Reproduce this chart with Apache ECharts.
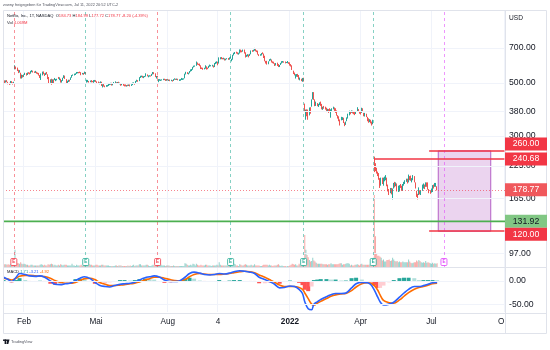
<!DOCTYPE html>
<html><head><meta charset="utf-8">
<script src="https://cdn.jsdelivr.net/npm/echarts@6/dist/echarts.min.js"></script>
<style>html,body{margin:0;padding:0;background:#fff}#c{width:550px;height:350px}</style>
</head><body><div id="c"></div><script>
// ---------- DATA ----------
const holidays = ['2021-01-18','2021-02-15','2021-04-02','2021-05-31','2021-07-05','2021-09-06','2021-11-25','2021-12-24','2022-01-17','2022-02-21','2022-04-15','2022-05-30','2022-06-20','2022-07-04','2022-09-05'];
const firstDay = '2021-01-05', lastAxisDay = '2022-10-03';
// [open, close, low, high]
const candles2021 = [
[518,521,515,523],[515,500,498,513],[505,509,502,513],[511,510,504,514],[503,499,494,506],[500,494,491,501],[495,508,494,510],[507,501,499,509],[500,498,493,503],[501,502,497,506],[580,586,570,593],[582,580,571,586],[576,565,561,580],[567,557,550,568],[559,562,553,566],[548,523,522,552],[525,539,522,542],[536,532,527,540],
[535,539,530,543],[543,548,540,552],[547,539,537,550],[541,552,540,553],[552,551,546,555],[551,548,543,553],[549,559,547,562],[561,564,555,566],[562,558,553,563],[557,557,551,559],[556,557,551,562],[555,551,547,557],[548,548,544,553],[549,540,537,551],[534,534,525,540],[520,546,515,548],[542,553,538,558],[549,547,544,559],[542,539,535,549],
[545,551,540,552],[550,548,543,556],[541,521,519,544],[521,511,500,530],[513,516,501,518],[513,493,492,521],[503,506,500,518],[517,505,500,518],[515,523,514,525],[516,518,509,520],[519,520,513,521],[525,524,520,530],[517,524,514,528],[518,505,502,521],[504,512,502,514],[513,523,510,526],[526,535,524,539],[536,521,520,537],[518,503,499,519],[506,508,500,511],[509,514,505,516],[513,513,507,516],[515,522,515,528],
[528,539,526,540],[540,541,536,543],[541,545,538,547],[542,547,540,549],[549,555,546,556],[553,555,549,556],[553,553,549,556],[555,554,550,558],[554,540,539,555],[545,549,543,551],[550,547,541,551],[547,554,546,558],[552,550,544,556],[508,509,502,516],[509,509,504,515],[507,506,502,510],[508,510,504,512],[512,506,503,514],[508,507,504,510],[508,509,501,514],[508,513,506,515],
[512,510,505,514],[507,505,499,508],[505,499,497,507],[500,501,494,503],[503,504,497,508],[502,487,486,506],[480,491,479,494],[489,484,483,496],[485,482,480,488],[483,488,482,490],[486,488,483,491],[489,494,486,497],[493,495,490,498],[495,498,492,501],[499,489,488,501],[490,497,489,500],[498,503,496,505],[502,503,500,508],[502,500,497,504],[501,503,499,505],
[505,499,497,506],[499,499,494,502],[496,489,487,497],[491,494,489,496],[494,492,487,496],[490,488,484,493],[490,485,484,493],[486,488,483,490],[489,488,485,492],[488,491,486,493],[492,487,484,493],[488,492,486,494],[492,500,490,502],[498,500,495,503],[498,497,492,500],[498,508,497,510],[510,512,506,516],[513,508,506,514],[511,527,509,529],[528,534,525,536],[533,535,529,537],[533,528,526,536],
[528,533,524,534],[533,533,529,535],[535,542,532,549],[542,536,533,543],[530,535,528,538],[535,537,532,539],[536,536,532,538],[536,541,535,546],[544,552,543,556],[552,547,544,555],[548,530,529,549],[525,533,522,535],[535,531,527,536],[510,514,504,519],[514,515,511,519],[515,515,510,517],[515,516,512,518],[516,519,514,521],[518,518,514,521],[518,514,510,519],[512,518,511,519],
[517,515,512,520],[516,516,510,517],[516,511,509,517],[512,514,509,516],[513,510,507,514],[511,517,510,519],[518,520,516,523],[520,518,515,521],[518,520,515,522],[520,515,513,521],[515,516,510,518],[514,517,511,519],[517,521,515,525],[518,520,515,523],[521,521,517,523],[524,545,523,547],[544,553,543,557],[552,547,545,555],[545,550,543,552],[551,558,549,561],[560,566,558,570],[566,569,561,572],
[570,582,568,584],[584,588,581,591],[588,590,585,592],[591,606,590,615],[603,598,596,609],[599,598,594,602],[600,590,588,603],[591,577,572,593],[578,577,572,581],[577,573,568,579],[574,575,570,579],[576,590,574,593],[582,575,569,587],[578,576,571,580],[578,586,577,590],[587,592,585,597],[590,592,587,594],[590,592,586,596],[588,583,580,592],[585,599,583,606],[603,610,600,613],
[608,613,604,616],[610,603,593,614],[606,634,603,640],[632,639,628,641],[640,631,629,642],[634,632,628,637],[632,634,628,638],[633,624,621,634],[626,629,622,632],[633,633,628,635],[633,628,625,636],[627,637,626,640],[638,639,632,646],[623,625,616,631],[628,653,626,656],[655,664,652,669],[664,671,661,674],[672,668,664,676],[670,662,659,672],[663,663,657,669],[666,690,664,691],
[683,681,671,690],[681,678,672,684],[679,688,676,690],[688,668,664,690],[670,646,639,672],[650,651,643,656],[650,656,646,660],[653,647,640,658],[650,658,649,662],[660,683,659,684],[682,679,675,686],[679,687,677,689],[688,692,682,701],[690,682,678,693],[682,679,673,685],[682,659,657,683],[658,654,648,660],[655,658,650,660],[655,666,652,667],[668,664,660,672],[662,642,636,664],
[645,618,616,650],[618,616,603,619],[617,602,597,619],[605,613,599,616],[618,626,617,629],[626,628,621,632],[626,611,609,627],[615,612,605,616],[612,605,602,614],[601,598,589,605],[598,605,592,606],[605,591,589,608],[593,587,583,600],[585,594,583,595],[596,605,595,607],[605,614,603,617],[613,614,608,618],[615,613,608,616],[612,611,604,615],[610,611,606,612],[611,612,605,618],[610,602,601,611]
];
const candles2022 = [
[605,597,591,610],[599,591,586,600],[593,568,567,593],[554,553,545,563],[549,541,538,553],[539,540,522,544],[536,541,531,545],[544,537,530,546],[538,519,517,540],[517,526,513,527],[518,511,509,521],[511,516,506,525],[518,508,507,526],[400,398,380,410],[383,387,351,387],[380,366,363,388],[382,360,351,387],[367,387,366,395],[386,384,372,396],[401,427,398,427],
[432,457,427,458],[455,429,425,458],[421,406,400,427],[407,410,401,418],[410,402,400,412],[401,404,397,409],[409,413,404,415],[407,406,401,418],[406,391,388,409],[390,397,386,398],[400,396,390,401],[396,395,387,398],[391,381,378,394],[383,387,380,390],[384,383,375,389],[389,381,378,392],[366,386,358,388],[384,391,382,392],[389,395,388,398],
[391,386,382,395],[388,380,375,392],[382,368,365,384],[364,362,355,367],[362,350,346,363],[347,342,332,352],[352,359,349,361],[353,357,350,360],[356,340,340,358],[339,331,330,342],[336,344,334,345],[349,358,346,359],[356,371,355,372],[370,381,366,383],[379,375,370,381],[377,383,375,384],[380,374,373,383],[378,376,370,380],[376,374,367,378],[376,379,371,381],[385,392,380,396],[386,381,378,389],[380,375,372,382],
[376,373,369,380],[378,392,375,394],[388,380,379,392],[374,368,363,375],[367,372,362,375],[370,362,360,372],[358,349,346,361],[351,344,341,356],[345,350,343,353],[350,341,339,351],[339,338,332,345],[340,349,336,351],[245,226,212,246],[226,218,214,231],[219,216,209,221],[212,210,204,213],[208,198,197,210],[197,189,182,200],[192,199,186,201],[199,190,189,201],
[190,199,186,201],[199,201,194,203],[201,205,196,206],[200,188,185,201],[186,181,176,188],[177,173,170,180],[177,180,173,182],[177,174,171,182],[170,180,163,181],[183,188,181,191],[188,186,183,193],[189,191,185,192],[188,177,176,190],[176,183,175,186],[185,186,176,187],[188,187,182,189],[185,180,177,186],[178,188,177,189],[187,191,186,193],[192,195,189,196],[195,197,193,199],
[197,193,190,199],[193,205,192,207],[202,199,196,204],[202,197,195,205],[194,199,192,200],[198,202,196,206],[201,193,192,204],[189,183,181,192],[175,170,167,177],[170,168,163,172],[172,180,170,183],[174,173,171,178],[173,176,170,178],[178,185,177,188],[182,185,181,190],[186,184,180,188],[186,191,184,192],[189,189,184,192],[187,180,179,192],[179,178,173,180],[175,175,172,178],
[176,180,174,181],[177,186,175,187],[186,184,181,188],[185,189,184,191],[186,187,184,191],[184.73,178.77,177.72,184.99]
];
// volume, millions
const volume2021 = [4,5,5,4,5,4,5,4,6,11,32,14,7,7,6,9,6,5, 6,5,4,4,3,3,4,4,3,3,3,3,3,3,4,5,4,3,4, 3,3,5,4,5,6,5,3,4,3,3,4,3,5,4,3,4,4,4,3,3,3,3, 6,3,3,2,4,3,3,3,4,3,3,5,11,17,7,5,4,4,3,3,3, 4,4,3,3,3,4,4,3,3,3,3,3,2,2,2,2,2,3,3,2, 3,3,3,2,2,2,2,2,3,2,3,2,3,4,2,3,3,3,5,5,3,3, 3,3,4,4,3,2,2,3,4,3,4,4,7,13,5,4,3,3,3,2,3, 3,3,2,2,2,3,2,2,2,2,2,2,2,2,2,7,6,4,3,3,4,3, 6,5,3,6,4,3,3,4,3,3,3,4,4,3,3,3,2,3,3,3,3, 4,3,9,4,3,3,3,3,3,3,3,4,8,12,7,6,5,3,3,2,5, 4,3,3,4,5,4,3,3,3,4,3,3,5,3,3,3,3,2,2,3,4, 4,4,4,3,4,3,3,2,3,3,3,4,5,3,2,3,2,2,2,1,2,2];
const volume2022 = [3,4,6,5,4,5,3,3,6,4,4,4,10,59,32,22,18,13,10,11, 17,12,10,8,6,6,6,6,6,5,5,5,5,4,5,5,7,5,5, 5,5,5,5,6,7,7,4,5,5,6,7,7,6,3,4,3,3,4,4,5,4,3, 5,6,4,4,4,4,4,4,4,4,6,17,133,57,26,21,21,19,17,12, 14,10,10,13,13,14,11,12,17,14,11,10,11,9,10,9,9,10,9,9,9, 9,14,10,8,7,8,9,9,12,10,13,11,9,8,9,8,11,8,9,8,7, 6,8,6,7,6,7];
// MACD pane: [bar index, value]
const macdLine = [[0,8],[4,3],[7,-1],[11,8],[14,16],[19,14],[23,11],[28,10],[32,11],[36,8],[41,0],[45,-7],[50,-8],[54,-6],[58,-5],[63,1],[67,6],[71,9],[76,5],[80,-3],[84,-9],[89,-12],[93,-13],[97,-10],[102,-7],[106,-6],[111,-5],[115,-3],[119,2],[124,7],[128,9],[132,11],[137,8],[141,2],[146,-1],[150,-1],[154,0],[159,8],[163,16],[167,19],[172,17],[176,14],[181,13],[185,14],[189,16],[194,15],[198,17],[202,20],[207,22],[211,21],[216,19],[220,16],[224,8],[229,3],[233,-1],[237,-6],[242,-15],[246,-14],[251,-11],[255,-12],[259,-18],[262,-27],[264,-45],[267,-60],[270,-62],[272,-50],[275,-45],[278,-40],[283,-34],[287,-30],[291,-27],[296,-27],[300,-26],[305,-15],[309,-6],[314,-3],[319,-4],[322,-8],[325,-20],[328,-35],[330,-45],[333,-52],[338,-50],[342,-46],[347,-35],[351,-26],[355,-18],[360,-12],[364,-12],[368,-10],[372,-7],[376,-4],[380,-3.21]];
const signalLine = [[0,6],[4,4],[7,2],[11,6],[14,10],[19,12],[23,12],[28,11],[32,10.5],[36,9.5],[41,6],[45,1],[50,-3],[54,-5],[58,-5],[63,-3],[67,1],[71,5],[76,6],[80,3],[84,-3],[89,-7],[93,-10],[97,-10],[102,-9],[106,-8],[111,-6],[115,-5],[119,-2],[124,2],[128,5],[132,8],[137,8],[141,6],[146,3],[150,1],[154,0],[159,3],[163,9],[167,14],[172,16],[176,15],[181,14],[185,14],[189,14],[194,15],[198,16],[202,18],[207,20],[211,21],[216,20],[220,18],[224,13],[229,8],[233,3],[237,-2],[242,-9],[246,-12],[251,-12],[255,-12],[259,-14],[262,-18],[264,-26],[267,-38],[270,-50],[272,-52],[275,-48],[278,-44],[283,-38],[287,-33],[291,-30],[296,-28],[300,-27],[305,-21],[309,-13],[314,-6],[319,-4],[322,-5],[325,-10],[328,-20],[330,-30],[333,-42],[338,-47],[342,-48],[347,-41],[351,-33],[355,-25],[360,-18],[364,-14],[368,-12],[372,-9],[376,-6],[380,-4.92]];
const macdHist = [[0,2],[4,-1],[7,-3],[11,2],[14,6],[19,2],[23,-1],[28,-1],[32,0.5],[36,-1.5],[41,-6],[45,-8],[50,-5],[54,-1],[58,0],[63,4],[67,5],[71,4],[76,-1],[80,-6],[84,-6],[89,-5],[93,-3],[97,0],[102,2],[106,2],[111,1],[115,2],[119,4],[124,5],[128,4],[132,3],[137,0],[141,-4],[146,-4],[150,-2],[154,0],[159,5],[163,7],[167,5],[172,1],[176,-1],[181,-1],[185,0],[189,2],[194,0],[198,1],[202,2],[207,2],[211,0],[216,-1],[220,-2],[224,-5],[229,-5],[233,-4],[237,-4],[242,-6],[246,-2],[251,1],[255,0],[259,-4],[262,-9],[264,-19],[267,-22],[270,-12],[272,2],[275,3],[278,4],[283,4],[287,3],[291,3],[296,1],[300,1],[305,6],[309,7],[314,3],[319,0],[322,-3],[325,-10],[328,-15],[330,-15],[333,-10],[338,-3],[342,2],[347,6],[351,7],[355,7],[360,6],[364,2],[368,2],[372,2],[376,2],[380,1.71]];
// ticks and labels
const priceTicks = [700,500,380,300,225,165,97];
const macdTicks = [0,-50];
const timeLabelDates = ['2021-02-01','2021-05-03','2021-08-02','2021-10-04','2022-01-03','2022-04-01','2022-07-01','2022-10-03'];
const timeLabelTexts = ['Feb','Mai','Aug','4','2022','Apr','Jul','Okt'];
// earnings events
const earningsDates = ['2021-01-19','2021-04-20','2021-07-20','2021-10-19','2022-01-20','2022-04-19','2022-07-19'];
const earningsKinds = ['miss','beat','miss','beat','beat','beat','future'];
// drawings
const lastPrice = 178.77;
const supportLevel = 131.92;
const gapLevel = 240.68, gapStart = '2022-04-20';
const zoneTop = 260, zoneBottom = 120, zoneLineStart = '2022-06-29', zoneRectStart = '2022-07-12', zoneRectEnd = '2022-09-15';

// ---------- BUILD ----------
function buildDays(start, end){
  const out=[]; const d=new Date(start+'T12:00:00Z'); const e=new Date(end+'T12:00:00Z');
  while(d<=e){ const wd=d.getUTCDay(); const s=d.toISOString().slice(0,10);
    if(wd!==0&&wd!==6&&holidays.indexOf(s)<0) out.push(s);
    d.setUTCDate(d.getUTCDate()+1);} return out;
}
const categories = buildDays(firstDay, lastAxisDay);
const candles = candles2021.concat(candles2022);
const volumes = volume2021.concat(volume2022);
const UP='#26a69a', DOWN='#ef5350';
const volData = volumes.map((v,i)=>({value:[i,v], itemStyle:{color: (candles[i] && candles[i][1]>=candles[i][0]) ? 'rgba(38,166,154,0.5)' : 'rgba(239,83,80,0.5)'}}));
const histData = macdHist.map((p,i)=>{
  const prev = i>0 ? macdHist[i-1][1] : p[1];
  let c;
  if (p[1]>=0) c = p[1]>=prev ? '#26a69a' : '#b2dfdb';
  else c = p[1]<prev ? '#ff5252' : '#ffcdd2';
  return {value:p, itemStyle:{color:c}};
});
const labelMap = {}; timeLabelDates.forEach((d,i)=>labelMap[d]=timeLabelTexts[i]);
const kindColor = {miss:'#f23645', beat:'#22ab94', future:'#e040fb'};

const FONT = '"Liberation Sans", Arial, sans-serif';
const TXT = '#131722';
const GRIDC = '#f0f3fa';
const splitInterval = (i,v)=> labelMap[v]!==undefined;

const chart = echarts.init(document.getElementById('c'), null, {renderer:'canvas'});
const earnLines = earningsDates.map((d,i)=>({xAxis:d, lineStyle:{color:kindColor[earningsKinds[i]], type:[3,3], width:1, opacity:0.55}}));
const priceGridLines = priceTicks.map(v=>({yAxis:v, lineStyle:{color:GRIDC, width:1, type:'solid'}}));

chart.setOption({
  animation:false,
  backgroundColor:'#fff',
  textStyle:{fontFamily:FONT},
  grid:[
    {left:3, right:45, top:10, height:257},
    {left:3, right:45, top:167, height:100},
    {left:3, right:45, top:268, height:44}
  ],
  xAxis:[0,1,2].map(gi=>({
    type:'category', gridIndex:gi, data:categories, boundaryGap:true,
    axisLine:{show:false}, axisTick:{show:false},
    axisLabel: gi===2 ? {
      show:true, interval:splitInterval, margin:6, color:TXT, fontSize:8.2, fontFamily:FONT,
      formatter:(v)=> v==='2022-01-03' ? '{b|2022}' : (labelMap[v]||''),
      rich:{b:{fontWeight:'bold', fontSize:8.2, color:TXT, fontFamily:FONT}}
    } : {show:false},
    splitLine:{show: gi!==1, interval:splitInterval, lineStyle:{color:GRIDC, width:1}}
  })),
  yAxis:[
    {type:'log', gridIndex:0, position:'right', min:85, max:1010, logBase:10,
     axisLine:{show:false}, axisTick:{show:false}, splitLine:{show:false},
     axisLabel:{show:true, customValues:priceTicks, formatter:(v)=>Number(v).toFixed(2), color:TXT, fontSize:8.7, margin:4, fontFamily:FONT}},
    {type:'value', gridIndex:1, min:0, max:185, show:false, splitLine:{show:false}},
    {type:'value', gridIndex:2, position:'right', min:-67, max:28,
     axisLine:{show:false}, axisTick:{show:false}, splitLine:{show:false},
     axisLabel:{show:true, customValues:macdTicks, formatter:(v)=>Number(v).toFixed(2), color:TXT, fontSize:8.7, margin:4, fontFamily:FONT}}
  ],
  series:[
    {type:'line', xAxisIndex:0, yAxisIndex:0, data:[], z:0, silent:true,
     markLine:{silent:true, symbol:['none','none'], label:{show:false}, data:priceGridLines.concat(earnLines), animation:false}},
    {type:'bar', xAxisIndex:1, yAxisIndex:1, data:volData, barWidth:1, z:1, silent:true},
    {type:'candlestick', xAxisIndex:0, yAxisIndex:0, data:candles, barWidth:1, z:3, silent:true,
     itemStyle:{color:UP, color0:DOWN, borderColor:UP, borderColor0:DOWN, borderWidth:1},
     markArea:{silent:true, itemStyle:{color:'rgba(156,39,176,0.2)', borderColor:'#b45fc6', borderWidth:1},
       data:[[{xAxis:zoneRectStart, yAxis:zoneTop},{xAxis:zoneRectEnd, yAxis:zoneBottom}]]},
     markLine:{silent:true, symbol:['none','none'], label:{show:false}, animation:false, data:[
       {yAxis:lastPrice, lineStyle:{color:'#f23645', width:1, type:[1,2], opacity:0.6}},
       [{coord:[gapStart,gapLevel], lineStyle:{color:'#f23645', width:1.5, type:'solid'}},{coord:[lastAxisDay,gapLevel]}],
       [{coord:[zoneLineStart,zoneTop], lineStyle:{color:'#f23645', width:1.5, type:'solid'}},{coord:[lastAxisDay,zoneTop]}],
       [{coord:[zoneLineStart,zoneBottom], lineStyle:{color:'#f23645', width:1.5, type:'solid'}},{coord:[lastAxisDay,zoneBottom]}]
     ]}},
    {type:'bar', xAxisIndex:2, yAxisIndex:2, data:histData, barWidth:4, z:1, silent:true,
     markLine:{silent:true, symbol:['none','none'], label:{show:false}, animation:false,
       data:macdTicks.map(v=>({yAxis:v, lineStyle:{color:GRIDC, width:1, type:'solid'}}))}},
    {type:'line', xAxisIndex:2, yAxisIndex:2, data:signalLine, smooth:0.35, showSymbol:false, z:3, silent:true,
     lineStyle:{color:'#ff6d00', width:1.6}},
    {type:'line', xAxisIndex:2, yAxisIndex:2, data:macdLine, smooth:0.35, showSymbol:false, z:4, silent:true,
     lineStyle:{color:'#2962ff', width:1.6}}
  ]
});

// ---------- overlays (text, frame, price tags, earnings markers) ----------
const g = [];
const L = (x1,y1,x2,y2)=>g.push({type:'line', silent:true, z:50, shape:{x1,y1,x2,y2}, style:{stroke:'#e0e3eb', lineWidth:1}});
g.push({type:'rect', silent:true, z:49, shape:{x:506, y:314, width:40, height:19}, style:{fill:'#fff'}});
L(3.5,10.5,546.5,10.5); L(3.5,333.5,546.5,333.5); L(3.5,10.5,3.5,333.5); L(546.5,10.5,546.5,333.5);
L(505.5,10.5,505.5,333.5); L(3.5,267.5,546.5,267.5); L(3.5,313.5,546.5,313.5);
// support level line (price converted through the axis)
const ySupport = chart.convertToPixel({gridIndex:0}, [categories[0], supportLevel])[1];
g.push({type:'line', silent:true, z:20, shape:{x1:3, y1:ySupport, x2:505, y2:ySupport}, style:{stroke:'#4caf50', lineWidth:1.6}});

g.push({type:'text', silent:true, z:60, x:3, y:5, style:{text:'zvwny freigegeben für TradingView.com, Jul 11, 2022 20:52 UTC-2', fill:'#50535e', font:'3.9px '+FONT, verticalAlign:'middle'}});
g.push({type:'text', silent:true, z:60, x:7, y:16, style:{
  text:'{n|Netflix, Inc., 1T, NASDAQ}  {k|O}{v|184.73} {k|H}{v|184.99} {k|L}{v|177.72} {k|C}{v|178.77} {v|-8.20 (-4.39%)}',
  verticalAlign:'middle', font:'4.1px '+FONT,
  rich:{n:{fill:TXT, font:'4.1px '+FONT}, k:{fill:TXT, font:'4.1px '+FONT}, v:{fill:'#f23645', font:'4.1px '+FONT}}}});
g.push({type:'text', silent:true, z:60, x:7, y:23.3, style:{
  text:'{k|Vol} {v|4.069M}', verticalAlign:'middle', font:'4.1px '+FONT,
  rich:{k:{fill:TXT, font:'4.1px '+FONT}, v:{fill:'#f23645', font:'4.1px '+FONT}}}});
g.push({type:'text', silent:true, z:60, x:7, y:272, style:{
  text:'{k|MACD} {h|1.71} {m|-3.21} {s|-4.92}', verticalAlign:'middle', font:'4.1px '+FONT,
  rich:{k:{fill:TXT, font:'4.1px '+FONT}, h:{fill:'#26a69a', font:'4.1px '+FONT}, m:{fill:'#2962ff', font:'4.1px '+FONT}, s:{fill:'#ff6d00', font:'4.1px '+FONT}}}});
g.push({type:'text', silent:true, z:60, x:509, y:18, style:{text:'USD', fill:TXT, font:'6.6px '+FONT, verticalAlign:'middle'}});
g.push({type:'rect', silent:true, z:60, shape:{x:3, y:339.5, width:4, height:1.4}, style:{fill:'#131722'}});
g.push({type:'rect', silent:true, z:60, shape:{x:4.6, y:339.5, width:1.4, height:4.5}, style:{fill:'#131722'}});
g.push({type:'polygon', silent:true, z:60, shape:{points:[[7,339.5],[9.5,339.5],[8.3,344],[6.4,344]]}, style:{fill:'#131722'}});
g.push({type:'text', silent:true, z:60, x:11, y:342, style:{text:'TradingView', fill:'#50535e', font:'3.9px '+FONT, verticalAlign:'middle'}});

earningsDates.forEach((d,i)=>{
  const p = chart.convertToPixel({gridIndex:0}, [d, 100]);
  const c = kindColor[earningsKinds[i]];
  g.push({type:'rect', silent:true, z:55, shape:{x:p[0]-3, y:258.5, width:6, height:7, r:1}, style:{fill:'#fff', stroke:c, lineWidth:0.8}});
  g.push({type:'text', silent:true, z:56, x:p[0], y:262.2, style:{text:'E', fill:c, font:'bold 4.5px '+FONT, align:'center', verticalAlign:'middle'}});
});
const tags = [
  {v:zoneTop, text:'260.00', bg:'#f23645', fg:'#fff', dy:-7},
  {v:gapLevel, text:'240.68', bg:'#f23645', fg:'#fff', dy:0},
  {v:lastPrice, text:'178.77', bg:'#f0585c', fg:'#fff', dy:0},
  {v:supportLevel, text:'131.92', bg:'#81c784', fg:TXT, dy:0},
  {v:zoneBottom, text:'120.00', bg:'#f23645', fg:'#fff', dy:3}
];
tags.forEach(t=>{
  const y = chart.convertToPixel({gridIndex:0}, [categories[0], t.v])[1] + t.dy;
  g.push({type:'rect', silent:true, z:57, shape:{x:505, y:y-6.5, width:42, height:13}, style:{fill:t.bg}});
  g.push({type:'text', silent:true, z:58, x:526, y:y, style:{text:t.text, fill:t.fg, font:'8.7px '+FONT, align:'center', verticalAlign:'middle'}});
});
chart.setOption({graphic:g});
</script></body></html>
